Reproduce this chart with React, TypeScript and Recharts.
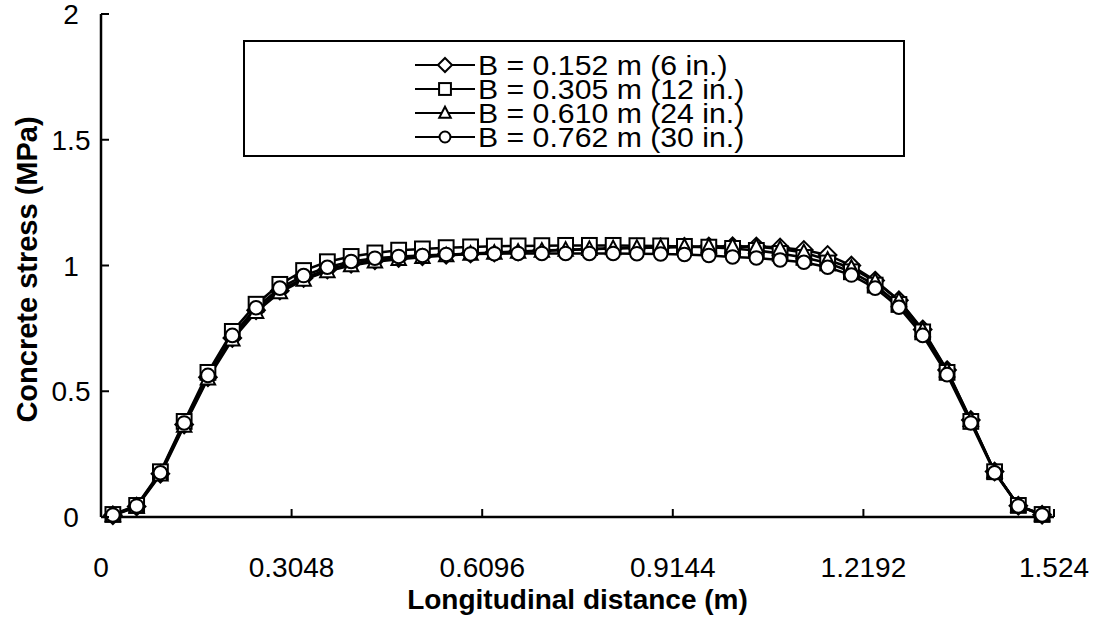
import React from 'react';
import { LineChart, Line, XAxis, YAxis, Legend } from 'recharts';

const distance = [
  0.019, 0.057, 0.095, 0.133, 0.171, 0.210, 0.248, 0.286, 0.324, 0.362,
  0.400, 0.438, 0.476, 0.514, 0.552, 0.591, 0.629, 0.667, 0.705, 0.743,
  0.781, 0.819, 0.857, 0.895, 0.933, 0.972, 1.010, 1.048, 1.086, 1.124,
  1.162, 1.200, 1.238, 1.276, 1.314, 1.353, 1.391, 1.429, 1.467, 1.505,
];

const b152 = [
  0.007, 0.042, 0.172, 0.368, 0.556, 0.712, 0.822, 0.900, 0.950, 0.984,
  1.007, 1.021, 1.030, 1.037, 1.043, 1.048, 1.052, 1.056, 1.060, 1.063,
  1.066, 1.069, 1.071, 1.073, 1.075, 1.076, 1.077, 1.076, 1.072, 1.062,
  1.042, 1.000, 0.940, 0.862, 0.746, 0.584, 0.386, 0.181, 0.045, 0.009,
];

const b305 = [
  0.010, 0.046, 0.180, 0.380, 0.575, 0.738, 0.846, 0.925, 0.980, 1.015,
  1.036, 1.050, 1.061, 1.066, 1.071, 1.074, 1.077, 1.078, 1.079, 1.080,
  1.080, 1.080, 1.079, 1.078, 1.076, 1.073, 1.068, 1.060, 1.048, 1.032,
  1.010, 0.975, 0.922, 0.845, 0.736, 0.575, 0.380, 0.180, 0.046, 0.010,
];

const b610 = [
  0.006, 0.040, 0.168, 0.362, 0.550, 0.705, 0.815, 0.893, 0.943, 0.977,
  1.000, 1.015, 1.025, 1.033, 1.040, 1.046, 1.050, 1.054, 1.058, 1.062,
  1.065, 1.068, 1.070, 1.072, 1.074, 1.075, 1.075, 1.074, 1.066, 1.052,
  1.022, 0.990, 0.937, 0.861, 0.742, 0.582, 0.385, 0.180, 0.045, 0.009,
];

const b762 = [
  0.008, 0.044, 0.176, 0.374, 0.563, 0.722, 0.832, 0.910, 0.960, 0.993,
  1.016, 1.029, 1.036, 1.040, 1.044, 1.046, 1.047, 1.048, 1.048, 1.048,
  1.048, 1.048, 1.047, 1.046, 1.044, 1.040, 1.034, 1.030, 1.022, 1.013,
  0.993, 0.962, 0.910, 0.834, 0.722, 0.566, 0.374, 0.176, 0.044, 0.008,
];

const xTicks = [0, 0.3048, 0.6096, 0.9144, 1.2192, 1.524];
const yTicks = [0, 0.5, 1, 1.5, 2];

const seriesNames = [
  'B = 0.152 m (6 in.)',
  'B = 0.305 m (12 in.)',
  'B = 0.610 m (24 in.)',
  'B = 0.762 m (30 in.)',
];
const seriesKeys = ['b152', 'b305', 'b610', 'b762'];
const seriesShapes = ['diamond', 'square', 'triangle', 'circle'];

const data = distance.map((d, i) => ({
  x: d,
  b152: b152[i],
  b305: b305[i],
  b610: b610[i],
  b762: b762[i],
}));

const FONT = '"Liberation Sans", Arial, sans-serif';

function Marker({ cx, cy, shape, scale = 1 }: any) {
  if (cx == null || cy == null) return null;
  const common = { fill: '#fff', stroke: '#000', strokeWidth: 2 };
  if (shape === 'circle') {
    const r = 6.8 * scale;
    return <circle cx={cx} cy={cy} r={r} {...common} />;
  }
  if (shape === 'square') {
    const s = 7.4 * scale;
    return <rect x={cx - s} y={cy - s} width={2 * s} height={2 * s} {...common} />;
  }
  if (shape === 'triangle') {
    const h = 7.8 * scale;
    const w = 7.2 * scale;
    return (
      <polygon
        points={`${cx},${cy - h} ${cx + w},${cy + h * 0.75} ${cx - w},${cy + h * 0.75}`}
        {...common}
      />
    );
  }
  const d = 8.8 * scale;
  return (
    <polygon
      points={`${cx},${cy - d} ${cx + d},${cy} ${cx},${cy + d} ${cx - d},${cy}`}
      {...common}
    />
  );
}

const makeDot = (shape: string) => (props: any) => (
  <Marker key={`${shape}-${props.index}`} cx={props.cx} cy={props.cy} shape={shape} />
);

const XTick = (props: any) => {
  const { x, y, payload } = props;
  return (
    <g>
      <line x1={x} x2={x} y1={y} y2={y - 8} stroke="#000" strokeWidth={2} />
      <text x={x} y={y + 60} textAnchor="middle" fontFamily={FONT} fontSize={28} fill="#000">
        {String(payload.value)}
      </text>
    </g>
  );
};

const YTick = (props: any) => {
  const { x, y, payload } = props;
  return (
    <g>
      <line x1={x} x2={x + 8} y1={y} y2={y} stroke="#000" strokeWidth={2} />
      <text x={x - 30} y={y + 10} textAnchor="middle" fontFamily={FONT} fontSize={28} fill="#000">
        {String(payload.value)}
      </text>
    </g>
  );
};

const XTitle = (props: any) => {
  const vb = props.viewBox || { x: 101, y: 517, width: 953, height: 114 };
  return (
    <text
      x={vb.x + vb.width / 2}
      y={vb.y + 92}
      textAnchor="middle"
      fontFamily={FONT}
      fontWeight="bold"
      fontSize={28}
      fill="#000"
    >
      Longitudinal distance (m)
    </text>
  );
};

const YTitle = (props: any) => {
  const vb = props.viewBox || { x: 0, y: 14, width: 101, height: 503 };
  const cx = vb.x + 37;
  const cy = vb.y + vb.height / 2 + 4;
  return (
    <text
      x={cx}
      y={cy}
      transform={`rotate(-90, ${cx}, ${cy})`}
      textAnchor="middle"
      fontFamily={FONT}
      fontWeight="bold"
      fontSize={29}
      fill="#000"
    >
      Concrete stress (MPa)
    </text>
  );
};

const LegendBox = () => {
  const W = 662;
  const H = 117;
  const rowY = [25, 49, 73, 97];
  const lineX1 = 172;
  const lineX2 = 232;
  const mx = 202;
  return (
    <svg width={W} height={H} style={{ display: 'block' }}>
      <rect x={1} y={1} width={W - 2} height={H - 2} fill="#fff" stroke="#000" strokeWidth={2} />
      {seriesNames.map((name, i) => (
        <g key={name}>
          <line x1={lineX1} x2={lineX2} y1={rowY[i]} y2={rowY[i]} stroke="#000" strokeWidth={2} />
          <Marker cx={mx} cy={rowY[i]} shape={seriesShapes[i]} scale={0.8} />
          <text
            transform={`translate(235, ${rowY[i] + 10}) scale(1.12, 1)`}
            fontFamily={FONT}
            fontSize={27}
            fill="#000"
          >
            {name}
          </text>
        </g>
      ))}
    </svg>
  );
};

export default function App() {
  return (
    <div style={{ position: 'absolute', left: 0, top: 0, background: '#fff' }}>
      <LineChart
        width={1099}
        height={631}
        data={data}
        margin={{ top: 14, right: 45, left: 0, bottom: 0 }}
      >
        <XAxis
          xAxisId="bottom"
          dataKey="x"
          type="number"
          domain={[0, 1.524]}
          ticks={xTicks}
          interval={0}
          height={114}
          tickSize={0}
          tickMargin={0}
          tickLine={false}
          axisLine={{ stroke: '#000', strokeWidth: 2.5 }}
          tick={<XTick />}
          label={<XTitle />}
          allowDataOverflow
        />
        <XAxis
          xAxisId="top"
          orientation="top"
          dataKey="x"
          type="number"
          domain={[0, 1.524]}
          height={0}
          tick={false}
          tickLine={false}
          axisLine={{ stroke: '#000', strokeWidth: 2.5 }}
        />
        <YAxis
          yAxisId="left"
          type="number"
          domain={[0, 2]}
          ticks={yTicks}
          interval={0}
          width={101}
          tickSize={0}
          tickMargin={0}
          tickLine={false}
          axisLine={{ stroke: '#000', strokeWidth: 2.5 }}
          tick={<YTick />}
          label={<YTitle />}
        />
        <YAxis
          yAxisId="right"
          orientation="right"
          type="number"
          domain={[0, 2]}
          width={0}
          tick={false}
          tickLine={false}
          axisLine={{ stroke: '#000', strokeWidth: 2.5 }}
        />
        <Legend
          layout="vertical"
          align="center"
          verticalAlign="middle"
          wrapperStyle={{ left: 243, top: 40, width: 662, height: 117 }}
          content={() => <LegendBox />}
        />
        {seriesKeys.map((k, i) => (
          <Line
            key={k}
            xAxisId="bottom"
            yAxisId="left"
            dataKey={k}
            name={seriesNames[i]}
            type="linear"
            stroke="#000"
            strokeWidth={2.5}
            dot={makeDot(seriesShapes[i])}
            activeDot={false}
            isAnimationActive={false}
          />
        ))}
      </LineChart>
    </div>
  );
}
